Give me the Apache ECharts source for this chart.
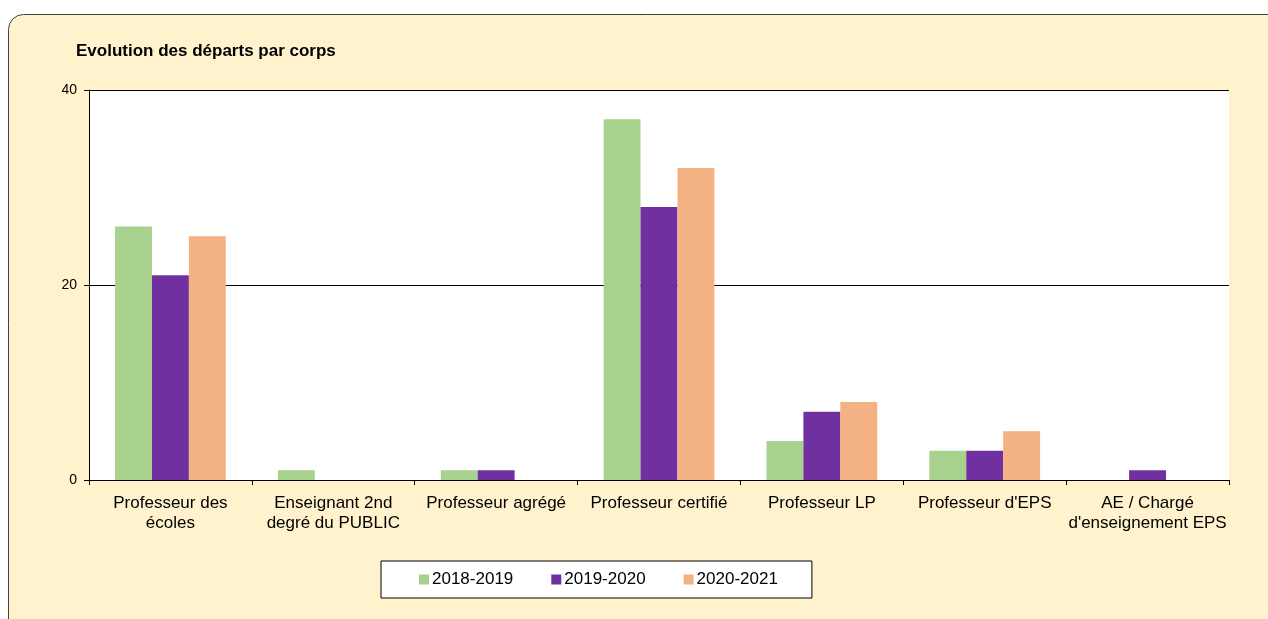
<!DOCTYPE html>
<html>
<head>
<meta charset="utf-8">
<script src="https://cdn.jsdelivr.net/npm/echarts@6/dist/echarts.min.js"></script>
<style>
html,body{margin:0;padding:0;background:#ffffff;}
#c{width:1268px;height:619px;}
</style>
</head>
<body>
<div id="c"></div>
<script>
var categories = ["Professeur des\nécoles", "Enseignant 2nd\ndegré du PUBLIC", "Professeur agrégé", "Professeur certifié", "Professeur LP", "Professeur d'EPS", "AE / Chargé\nd'enseignement EPS"];
var seriesNames = ["2018-2019", "2019-2020", "2020-2021"];
var values2018 = [26, 1, 1, 37, 4, 3, 0];
var values2019 = [21, 0, 1, 28, 7, 3, 1];
var values2020 = [25, 0, 0, 32, 8, 5, 0];
var colors = ["#a9d18e", "#7030a0", "#f4b183"];
var yTicks = [0, 20, 40];

var chart = echarts.init(document.getElementById('c'), null, {renderer: 'canvas'});
var font = "'Liberation Sans', Arial, sans-serif";
function mk(name, data, color) {
  return {
    name: name, type: 'bar', data: data, barGap: '0%', barCategoryGap: '32%',
    itemStyle: {color: color}, emphasis: {disabled: true}, silent: true
  };
}
chart.setOption({
  animation: false,
  backgroundColor: '#ffffff',
  graphic: [{
    type: 'rect', left: 8, top: 14, z: -10,
    shape: {width: 1300, height: 640, r: [15, 0, 0, 0]},
    style: {fill: '#fff2cc', stroke: '#404040', lineWidth: 1}
  }],
  title: {
    text: 'Evolution des départs par corps', left: 71, top: 38,
    textStyle: {fontFamily: font, fontSize: 17, fontWeight: 'bold', color: '#000'}
  },
  legend: {
    data: seriesNames, left: 381, top: 561, width: 431, height: 38,
    backgroundColor: '#ffffff', borderColor: '#000', borderWidth: 1,
    padding: [10, 34, 10, 38], itemGap: 38, itemWidth: 10, itemHeight: 10,
    icon: 'rect',
    textStyle: {fontFamily: font, fontSize: 17, color: '#000', padding: [0, 0, 0, -2]}
  },
  grid: {left: 89, right: 39, top: 90, bottom: 139, containLabel: false,
    show: true, backgroundColor: '#ffffff', borderWidth: 0},
  xAxis: {
    type: 'category', data: categories,
    axisLine: {lineStyle: {color: '#000', width: 1}},
    axisTick: {show: true, length: 5, lineStyle: {color: '#000'}},
    axisLabel: {interval: 0, fontFamily: font, fontSize: 17, color: '#000', margin: 13, lineHeight: 20}
  },
  yAxis: {
    type: 'value', min: 0, max: 40, interval: 20,
    axisLine: {show: true, lineStyle: {color: '#000', width: 1}},
    axisTick: {show: true, length: 5, lineStyle: {color: '#000'}},
    axisLabel: {fontFamily: font, fontSize: 14, color: '#000', margin: 12,
      formatter: function(v){ return yTicks.indexOf(v) >= 0 ? String(v) : ''; }},
    splitLine: {show: true, lineStyle: {color: '#000', width: 1}}
  },
  series: [mk(seriesNames[0], values2018, colors[0]), mk(seriesNames[1], values2019, colors[1]), mk(seriesNames[2], values2020, colors[2])]
});
</script>
</body>
</html>
